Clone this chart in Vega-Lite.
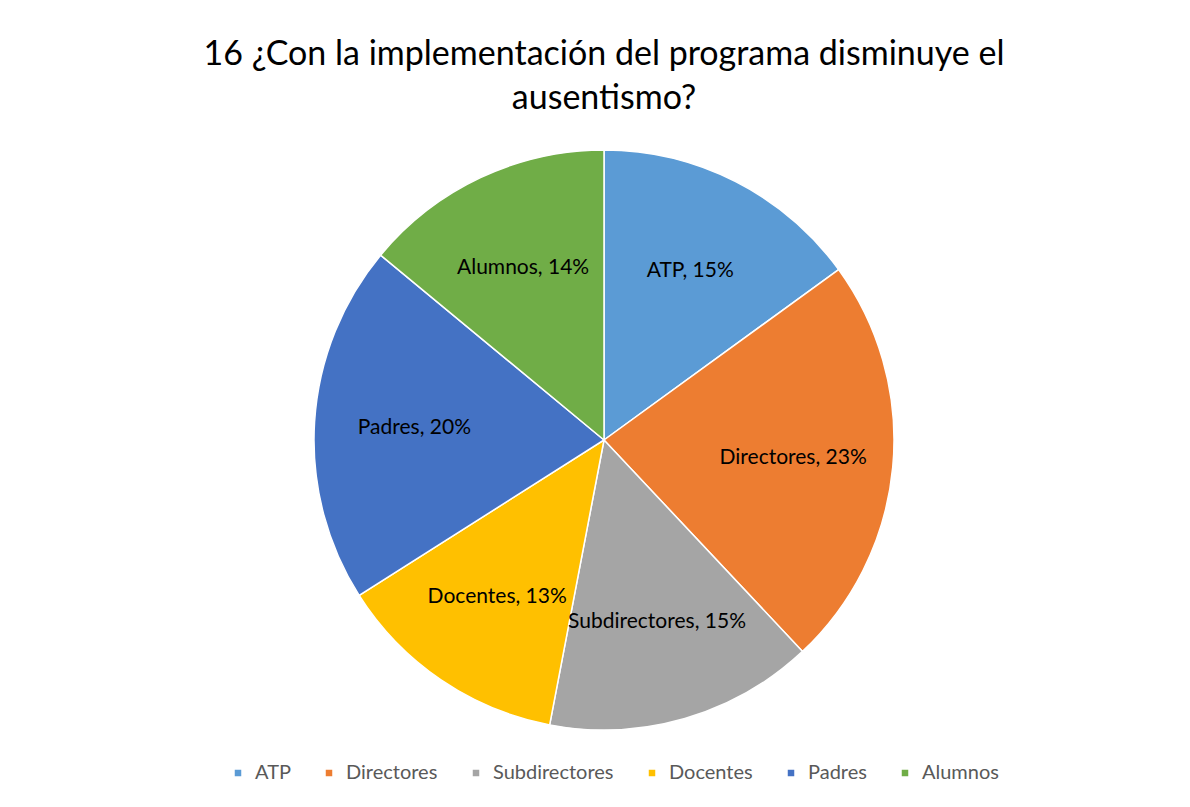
{
  "$schema": "https://vega.github.io/schema/vega-lite/v6.json",
  "width": 1172,
  "height": 620,
  "autosize": {"type": "none"},
  "padding": {"top": 130, "bottom": 57, "left": 18, "right": 0},
  "background": "white",
  "config": {"view": {"stroke": null}, "font": "Lato"},
  "title": {
    "text": ["16 ¿Con la implementación del programa disminuye el", "ausentismo?"],
    "fontSize": 34,
    "fontWeight": "normal",
    "color": "#000000",
    "lineHeight": 44,
    "anchor": "middle",
    "offset": 14
  },
  "data": {
    "values": [
      {"cat": "ATP", "pct": 15, "ord": 1},
      {"cat": "Directores", "pct": 23, "ord": 2},
      {"cat": "Subdirectores", "pct": 15, "ord": 3},
      {"cat": "Docentes", "pct": 13, "ord": 4},
      {"cat": "Padres", "pct": 20, "ord": 5},
      {"cat": "Alumnos", "pct": 14, "ord": 6}
    ]
  },
  "encoding": {
    "theta": {"field": "pct", "type": "quantitative", "stack": true},
    "order": {"field": "ord", "type": "quantitative"},
    "color": {
      "field": "cat",
      "type": "nominal",
      "sort": ["ATP", "Directores", "Subdirectores", "Docentes", "Padres", "Alumnos"],
      "scale": {
        "domain": ["ATP", "Directores", "Subdirectores", "Docentes", "Padres", "Alumnos"],
        "range": ["#5B9BD5", "#ED7D31", "#A5A5A5", "#FFC000", "#4472C4", "#70AD47"]
      },
      "legend": {
        "orient": "none",
        "legendX": 210,
        "legendY": 633,
        "direction": "horizontal",
        "title": null,
        "symbolType": "square",
        "symbolSize": 64,
        "labelFontSize": 20,
        "labelColor": "#595959",
        "labelOffset": 7,
        "columnPadding": 28
      }
    }
  },
  "layer": [
    {
      "mark": {"type": "arc", "outerRadius": 290, "stroke": "white", "strokeWidth": 1.5}
    },
    {
      "mark": {"type": "text", "radius": 190, "fontSize": 21, "color": "#000000"},
      "encoding": {
        "text": {"field": "lbl", "type": "nominal"},
        "color": {"value": "#000000"}
      },
      "transform": [{"calculate": "datum.cat + ', ' + datum.pct + '%'", "as": "lbl"}]
    }
  ]
}
